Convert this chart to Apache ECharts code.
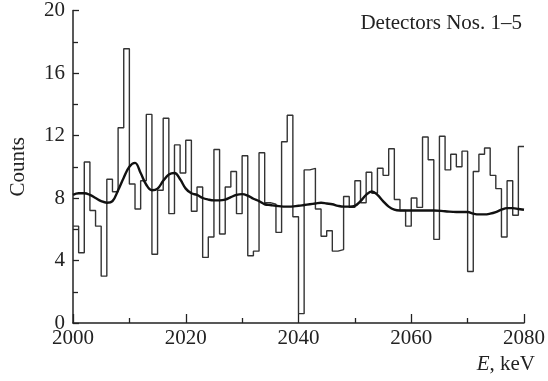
<!DOCTYPE html>
<html>
<head>
<meta charset="utf-8">
<script src="https://cdn.jsdelivr.net/npm/echarts@6/dist/echarts.min.js"></script>
<style>
  html, body { margin: 0; padding: 0; background: #fff; }
  #chart { width: 548px; height: 381px; }
</style>
</head>
<body>
<div id="chart"></div>
<script>
// Energy spectrum, 1 keV bins from 2000 to 2080 keV
const binStart = 2000;
const binWidth = 1;
const counts = [
  6.2, 4.5, 10.3, 7.2, 6.2, 3.0, 9.2, 8.4, 12.5, 17.55,
  8.9, 7.3, 9.1, 13.35, 4.4, 8.5, 13.1, 7.0, 11.4, 9.6,
  11.7, 7.15, 8.7, 4.2, 5.5, 11.1, 5.7, 8.7, 9.7, 7.0,
  10.7, 4.3, 4.6, 10.9, 7.7, 7.6, 5.8, 11.6, 13.3, 6.8,
  0.6, 9.8, 9.9, 7.3, 5.55, 5.9, 4.6, 4.7, 8.1, 7.4,
  9.1, 7.7, 9.65, 8.3, 9.9, 9.45, 11.15, 7.9, 7.2, 6.2,
  8.0, 7.4, 11.9, 10.45, 5.35, 11.95, 9.8, 10.8, 10.0, 11.0,
  3.3, 9.7, 10.8, 11.2, 9.45, 8.6, 5.5, 9.1, 6.9, 11.3
];

// Smoothed background (fit curve)
const fitE = [
  2000, 2001, 2002, 2003, 2004, 2005, 2006, 2007, 2008, 2009,
  2010, 2011, 2012, 2013, 2014, 2015, 2016, 2017, 2018, 2019,
  2020, 2021, 2022, 2023, 2024, 2025, 2026, 2027, 2028, 2029,
  2030, 2031, 2032, 2033, 2034, 2035, 2036, 2038, 2040, 2041,
  2042, 2043, 2044, 2045, 2046, 2047, 2048, 2049, 2050, 2051,
  2052, 2053, 2054, 2055, 2056, 2057, 2058, 2060, 2062, 2064,
  2066, 2068, 2070, 2071, 2072, 2073, 2074, 2075, 2076, 2077,
  2078, 2079, 2080
];
const fitCounts = [
  8.2, 8.3, 8.3, 8.2, 8.0, 7.8, 7.7, 7.8, 8.5, 9.3,
  10.0, 10.25, 9.6, 8.85, 8.5, 8.6, 9.1, 9.5, 9.6, 9.2,
  8.6, 8.3, 8.2, 8.0, 7.9, 7.85, 7.85, 7.9, 8.05, 8.2,
  8.25, 8.15, 7.95, 7.8, 7.6, 7.55, 7.5, 7.45, 7.5, 7.55,
  7.6, 7.65, 7.7, 7.65, 7.6, 7.5, 7.45, 7.45, 7.5, 7.8,
  8.2, 8.42, 8.2, 7.8, 7.45, 7.25, 7.2, 7.2, 7.2, 7.2,
  7.15, 7.1, 7.1, 7.0, 6.95, 6.95, 7.0, 7.1, 7.25, 7.35,
  7.35, 7.3, 7.25
];

const yTicks = [0, 4, 8, 12, 16, 20];
const xTicks = [2000, 2020, 2040, 2060, 2080];

// Step outline: each bin's left edge, plus the closing right edge
const histPoints = counts.map((c, i) => [binStart + i * binWidth, c]);
histPoints.push([binStart + counts.length * binWidth, counts[counts.length - 1]]);

const fitPoints = fitE.map((e, i) => [e, fitCounts[i]]);

const serif = '"Liberation Serif", "Times New Roman", serif';
const ink = '#222';
const fs = 21;

const chart = echarts.init(document.getElementById('chart'), null, { renderer: 'canvas' });
chart.setOption({
  animation: false,
  backgroundColor: '#fff',
  textStyle: { fontFamily: serif, color: ink },
  grid: { left: 66, right: 19, top: 10, bottom: 58, containLabel: false },
  title: {
    text: 'Detectors Nos. 1\u20135',
    right: 21,
    top: 8,
    textStyle: { fontFamily: serif, fontSize: fs, fontWeight: 'normal', color: ink }
  },
  xAxis: {
    type: 'value',
    min: xTicks[0],
    max: xTicks[xTicks.length - 1],
    interval: 20,
    name: '{i|E}, keV',
    nameLocation: 'end',
    nameGap: 11,
    nameTextStyle: {
      fontFamily: serif, fontSize: fs, color: ink,
      align: 'right', verticalAlign: 'top', padding: [31, 0, 0, 0],
      rich: { i: { fontFamily: serif, fontSize: fs, fontStyle: 'italic', color: ink } }
    },
    axisLine: { show: true, lineStyle: { color: ink, width: 1.5 } },
    axisTick: { show: true, inside: true, length: 9, lineStyle: { color: ink, width: 1.3 } },
    minorTick: { show: true, splitNumber: 2, length: 5, lineStyle: { color: ink, width: 1.3 } },
    axisLabel: { fontFamily: serif, fontSize: fs, color: ink, margin: 5, formatter: v => String(v) },
    splitLine: { show: false }
  },
  yAxis: {
    type: 'value',
    min: yTicks[0],
    max: yTicks[yTicks.length - 1],
    interval: 4,
    name: 'Counts',
    nameLocation: 'middle',
    nameRotate: 90,
    nameGap: 44,
    nameTextStyle: { fontFamily: serif, fontSize: fs, color: ink },
    axisLine: { show: true, lineStyle: { color: ink, width: 1.5 } },
    axisTick: { show: true, inside: true, length: 6, lineStyle: { color: ink, width: 1.3 } },
    minorTick: { show: true, splitNumber: 2, length: 5, lineStyle: { color: ink, width: 1.3 } },
    axisLabel: { fontFamily: serif, fontSize: fs, color: ink, margin: 8, formatter: v => String(v) },
    splitLine: { show: false }
  },
  series: [
    {
      name: 'spectrum',
      type: 'line',
      step: 'end',
      data: histPoints,
      symbol: 'none',
      lineStyle: { color: '#333', width: 1.4 },
      z: 2
    },
    {
      name: 'fit',
      type: 'line',
      smooth: 0.4,
      data: fitPoints,
      symbol: 'none',
      lineStyle: { color: '#111', width: 2.4 },
      z: 3
    }
  ]
});
</script>
</body>
</html>
